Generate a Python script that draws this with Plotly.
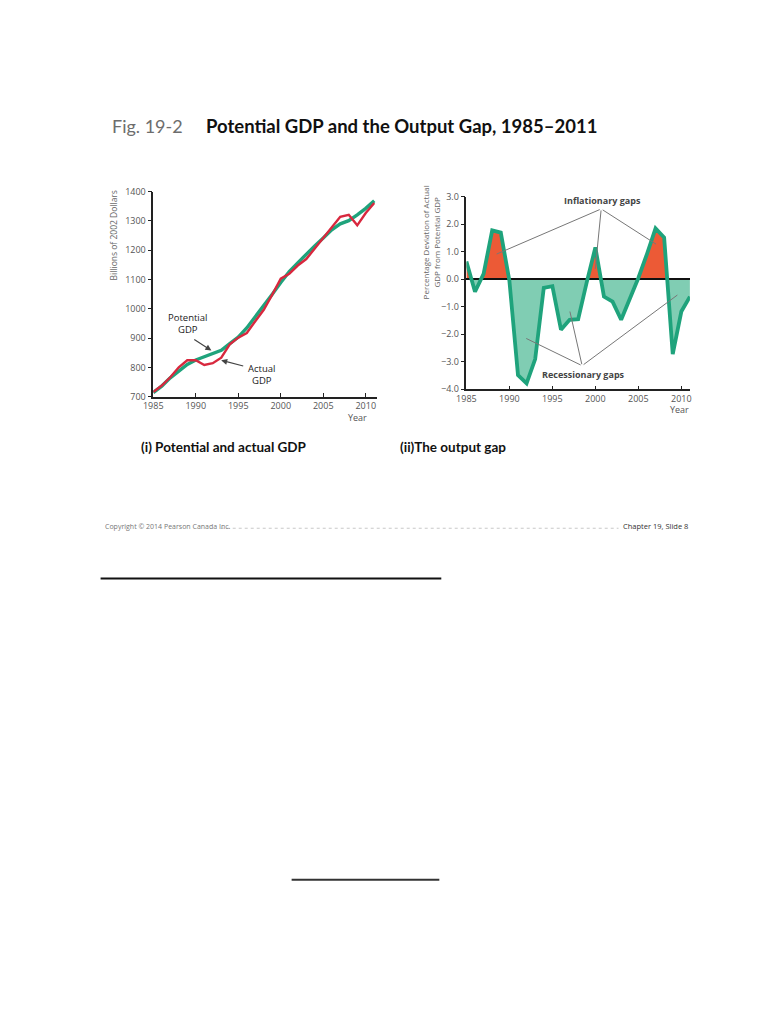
import plotly.graph_objects as go

W, H = 784, 1015

# ---------------- data ----------------
years = list(range(1985, 2012))
potential_gdp = [715, 737, 765, 787, 811, 826, 838, 847, 859, 882, 904, 935, 972, 1011,
                 1050, 1090, 1127, 1157, 1188, 1215, 1242, 1270, 1290, 1301, 1321, 1343, 1369]
actual_gdp = [717, 739, 767, 801, 825, 825, 809, 815, 834, 879, 902, 918, 958, 997,
              1049, 1103, 1120, 1148, 1170, 1206, 1243, 1282, 1314, 1321, 1285, 1327, 1361]
output_gap = [0.65, -0.45, 0.2, 1.78, 1.7, -0.05, -3.48, -3.78, -2.9, -0.31, -0.25, -1.83, -1.47, -1.45,
              -0.1, 1.16, -0.63, -0.81, -1.47, -0.75, 0.05, 0.92, 1.85, 1.52, -2.72, -1.17, -0.63]

gdp_ticks = [700, 800, 900, 1000, 1100, 1200, 1300, 1400]
gap_ticks = [-4, -3, -2, -1, 0, 1, 2, 3]
year_ticks = [1985, 1990, 1995, 2000, 2005, 2010]

# ---------------- helpers ----------------
def px(x):
    return x / W

def py(y):
    return (H - y) / H

GREEN = "#1fa37c"
RED = "#d8283e"
FILL_RED = "#ec5a36"
FILL_TEAL = "#80cdb3"
TICKFONT = dict(family="Open Sans", size=9, color="#555")

fig = go.Figure()

# ---- left chart ----
fig.add_trace(go.Scatter(x=years, y=potential_gdp, mode="lines",
                         line=dict(color=GREEN, width=3.4), xaxis="x", yaxis="y",
                         showlegend=False, hoverinfo="skip"))
fig.add_trace(go.Scatter(x=years, y=actual_gdp, mode="lines",
                         line=dict(color=RED, width=2.4), xaxis="x", yaxis="y",
                         showlegend=False, hoverinfo="skip"))

# ---- right chart: fills clipped via axis domains ----
fig.add_trace(go.Scatter(x=years, y=output_gap, mode="lines", line=dict(width=0),
                         fill="tozeroy", fillcolor=FILL_RED, xaxis="x2", yaxis="y2",
                         showlegend=False, hoverinfo="skip"))
fig.add_trace(go.Scatter(x=years, y=output_gap, mode="lines", line=dict(width=0),
                         fill="tozeroy", fillcolor=FILL_TEAL, xaxis="x2", yaxis="y3",
                         showlegend=False, hoverinfo="skip"))
fig.add_trace(go.Scatter(x=years, y=output_gap, mode="lines",
                         line=dict(color=GREEN, width=3.8), xaxis="x2", yaxis="y4",
                         showlegend=False, hoverinfo="skip"))

# pixel geometry
L_X0, L_X1 = 145.5, 372.5
L_Y0, L_Y1 = 395.0, 187.0
R_X0, R_X1 = 463.5, 690.5
R_Y0, R_Y1 = 387.3, 192.3
R_Z = R_Y0 - (R_Y0 - R_Y1) * 4 / 7

axis_common = dict(showgrid=False, zeroline=False, showline=True, linecolor="#222",
                   linewidth=1.5, tickfont=TICKFONT, tickcolor="#222")

fig.update_layout(
    width=W, height=H, margin=dict(l=0, r=0, t=0, b=0),
    paper_bgcolor="white", plot_bgcolor="rgba(0,0,0,0)",
    xaxis=dict(domain=[px(L_X0), px(L_X1)], range=[1985, 2011.3], anchor="y",
               tickvals=year_ticks, ticks="inside", ticklen=4, **axis_common),
    yaxis=dict(domain=[py(L_Y0), py(L_Y1)], range=[700, 1400], anchor="x",
               tickvals=gdp_ticks, ticks="outside", ticklen=4, **axis_common),
    xaxis2=dict(domain=[px(R_X0), px(R_X1)], range=[1985, 2011], anchor="y4",
                tickvals=year_ticks, ticks="inside", ticklen=4, **axis_common),
    yaxis2=dict(domain=[py(R_Z), py(R_Y1)], range=[0, 3], anchor="x2", visible=False),
    yaxis3=dict(domain=[py(R_Y0), py(R_Z)], range=[-4, 0], anchor="x2", visible=False),
    yaxis4=dict(domain=[py(R_Y0), py(R_Y1)], range=[-4, 3], anchor="x2",
                tickvals=gap_ticks, tickformat=".1f", ticks="outside", ticklen=4,
                showgrid=False, zeroline=True, zerolinecolor="#111", zerolinewidth=2,
                showline=True, linecolor="#222", linewidth=1.5, tickfont=TICKFONT,
                tickcolor="#222"),
)

ann = []
# title
ann.append(dict(x=px(102), y=py(121), xref="paper", yref="paper", xanchor="left", yanchor="middle",
                text="Fig. 19-2", showarrow=False,
                font=dict(family="Lato", size=18, color="#6d6d6d")))
ann.append(dict(x=px(197), y=py(121), xref="paper", yref="paper", xanchor="left", yanchor="middle",
                text="<b>Potential GDP and the Output Gap, 1985–2011</b>", showarrow=False,
                font=dict(family="Lato", size=18.5, color="#111")))
# subtitles
ann.append(dict(x=px(131), y=py(446), xref="paper", yref="paper", xanchor="left", yanchor="middle",
                text="<b>(i) Potential and actual GDP</b>", showarrow=False,
                font=dict(family="Lato", size=13.5, color="#111")))
ann.append(dict(x=px(394), y=py(446), xref="paper", yref="paper", xanchor="left", yanchor="middle",
                text="<b>(ii)The output gap</b>", showarrow=False,
                font=dict(family="Lato", size=13.5, color="#111")))
# axis titles
ann.append(dict(x=px(105), y=py(231), xref="paper", yref="paper", xanchor="center", yanchor="middle",
                text="Billions of 2002 Dollars", textangle=-90, showarrow=False,
                font=dict(family="Open Sans", size=8.5, color="#666")))
ann.append(dict(x=px(428), y=py(238), xref="paper", yref="paper", xanchor="center", yanchor="middle",
                text="Percentage Deviation of Actual<br>GDP from Potential GDP", textangle=-90,
                showarrow=False, font=dict(family="Open Sans", size=8, color="#666")))
ann.append(dict(x=px(353), y=py(416), xref="paper", yref="paper", xanchor="center", yanchor="middle",
                text="Year", showarrow=False, font=dict(family="Open Sans", size=9, color="#555")))
ann.append(dict(x=px(680), y=py(408), xref="paper", yref="paper", xanchor="center", yanchor="middle",
                text="Year", showarrow=False, font=dict(family="Open Sans", size=9, color="#555")))

# left chart labels with arrows
ann.append(dict(x=1989.07, y=949, xref="x", yref="y", text="Potential<br>GDP", showarrow=False,
                font=dict(family="Open Sans", size=9.5, color="#222")))
ann.append(dict(x=1991.84, y=858, ax=1989.65, ay=899, xref="x", yref="y", axref="x", ayref="y",
                text="", showarrow=True, arrowhead=2, arrowsize=1, arrowwidth=1.2, arrowcolor="#444"))
ann.append(dict(x=1997.7, y=777, xref="x", yref="y", text="Actual<br>GDP", showarrow=False,
                font=dict(family="Open Sans", size=9.5, color="#222")))
ann.append(dict(x=1992.99, y=825, ax=1995.76, ay=804, xref="x", yref="y", axref="x", ayref="y",
                text="", showarrow=True, arrowhead=2, arrowsize=1, arrowwidth=1.2, arrowcolor="#444"))

# right chart labels with pointer lines
ann.append(dict(x=2000.87, y=2.85, xref="x2", yref="y4", text="<b>Inflationary gaps</b>",
                showarrow=False, font=dict(family="Open Sans", size=9, color="#444")))
for tx, ty in [(1988.52, 0.92), (1999.99, 0.38), (2007.06, 1.28)]:
    ann.append(dict(x=tx, y=ty, ax=2000.68, ay=2.56, xref="x2", yref="y4", axref="x2", ayref="y4",
                    text="", showarrow=True, arrowhead=0, arrowwidth=1, arrowcolor="#777"))
ann.append(dict(x=1998.58, y=-3.45, xref="x2", yref="y4", text="<b>Recessionary gaps</b>",
                showarrow=False, font=dict(family="Open Sans", size=9, color="#444")))
for tx, ty in [(1991.96, -2.15), (1997.04, -1.17), (2009.54, -0.57)]:
    ann.append(dict(x=tx, y=ty, ax=1998.46, ay=-3.14, xref="x2", yref="y4", axref="x2", ayref="y4",
                    text="", showarrow=True, arrowhead=0, arrowwidth=1, arrowcolor="#777"))

# footer
ann.append(dict(x=px(94), y=py(526), xref="paper", yref="paper", xanchor="left", yanchor="middle",
                text="Copyright © 2014 Pearson Canada Inc.", showarrow=False,
                font=dict(family="Open Sans", size=7, color="#777")))
ann.append(dict(x=px(621), y=py(526), xref="paper", yref="paper", xanchor="left", yanchor="middle",
                text="Chapter 19, Slide 8", showarrow=False,
                font=dict(family="Open Sans", size=7.5, color="#333")))
fig.update_layout(annotations=ann)

shapes = [
    dict(type="line", xref="paper", yref="paper", x0=px(214), x1=px(618), y0=py(528), y1=py(528),
         line=dict(color="#c8c8c8", width=1, dash="dot")),
    dict(type="line", xref="paper", yref="paper", x0=px(92), x1=px(438), y0=py(579), y1=py(579),
         line=dict(color="#111", width=2)),
    dict(type="line", xref="paper", yref="paper", x0=px(286), x1=px(436), y0=py(884), y1=py(884),
         line=dict(color="#333", width=2)),
]
fig.update_layout(shapes=shapes)

fig.write_html("out.html", config={"displayModeBar": False},
               post_script="document.body.style.margin='0';document.body.style.overflow='hidden';")
